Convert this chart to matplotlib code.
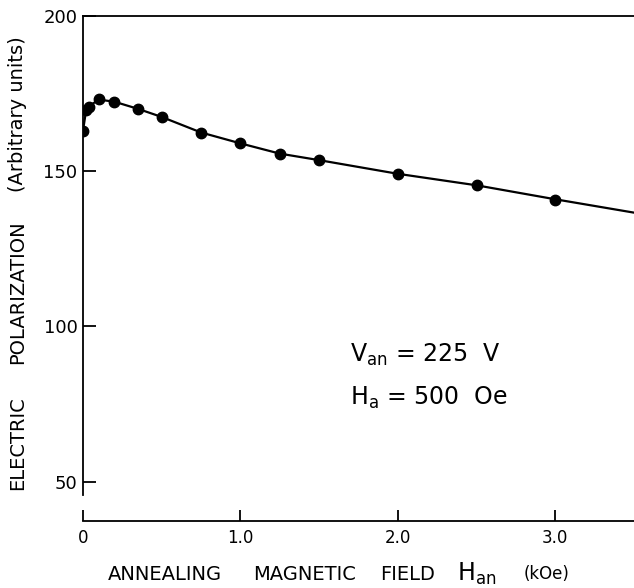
import matplotlib
matplotlib.use("Agg")
import matplotlib.pyplot as plt

# ---- data ----
field_koe = [0.0, 0.02, 0.04, 0.10, 0.20, 0.35, 0.50, 0.75, 1.00, 1.25, 1.50, 2.00, 2.50, 3.00]
polarization = [163.0, 169.6, 170.7, 173.1, 172.2, 170.0, 167.4, 162.2, 158.9, 155.4, 153.6, 149.1, 145.6, 140.7]

curve_x = [0.0, 0.02, 0.04, 0.10, 0.20, 0.35, 0.50, 0.75, 1.00, 1.25, 1.50, 2.00, 2.50, 3.00, 3.50]
curve_y = [163.0, 169.6, 170.9, 173.0, 172.3, 170.0, 167.4, 162.4, 158.9, 155.6, 153.5, 149.1, 145.4, 140.9, 136.6]

xticks = [0, 1.0, 2.0, 3.0]
xtick_labels = ["0", "1.0", "2.0", "3.0"]
yticks = [50, 100, 150, 200]
ytick_labels = ["50", "100", "150", "200"]

W, H = 634, 588
fig = plt.figure(figsize=(W / 100, H / 100), dpi=100)
plt.rcParams['mathtext.fontset'] = 'dejavusans'


def fx(px):
    return px / W


def fy(py):
    return 1 - py / H


left_px, right_px, top_px, bottom_px = 83, 634, 15.7, 495
ax = fig.add_axes([fx(left_px), fy(bottom_px), fx(right_px - left_px), (bottom_px - top_px) / H])

ax.plot(curve_x, curve_y, color='black', lw=1.6, zorder=2)
ax.plot(field_koe, polarization, 'o', color='black', ms=7.5, zorder=3)

ax.set_xlim(0, 3.5)
ax.set_ylim(45.7, 200)

ax.spines['right'].set_visible(False)
for s in ['left', 'top', 'bottom']:
    ax.spines[s].set_linewidth(1.3)
ax.spines['bottom'].set_position(('outward', 26 * 0.72))

ax.set_xticks(xticks)
ax.set_xticklabels(xtick_labels)
ax.set_yticks(yticks)
ax.set_yticklabels(ytick_labels)
ax.tick_params(axis='x', direction='in', length=8, width=1.3, pad=6, labelsize=12)
ax.tick_params(axis='y', direction='in', length=9, width=1.3, pad=4, labelsize=13)

# x-axis label pieces
fs = 14
fig.text(fx(165), fy(574), "ANNEALING", ha='center', va='center', fontsize=fs)
fig.text(fx(305), fy(574), "MAGNETIC", ha='center', va='center', fontsize=fs)
fig.text(fx(408), fy(574), "FIELD", ha='center', va='center', fontsize=fs)
fig.text(fx(477), fy(574), r"$\mathrm{H}_{\mathrm{an}}$", ha='center', va='center', fontsize=17)
fig.text(fx(547), fy(574), "(kOe)", ha='center', va='center', fontsize=12)

# y-axis label pieces
fig.text(fx(18), fy(443), "ELECTRIC", ha='center', va='center', rotation=90, fontsize=fs)
fig.text(fx(18), fy(292), "POLARIZATION", ha='center', va='center', rotation=90, fontsize=fs)
fig.text(fx(18), fy(114), "(Arbitrary units)", ha='center', va='center', rotation=90, fontsize=fs)

# annotations
fig.text(fx(350), fy(355), r"$\mathrm{V}_{\mathrm{an}}$" + " = 225  V", ha='left', va='center', fontsize=17)
fig.text(fx(350), fy(398), r"$\mathrm{H}_{\mathrm{a}}$" + " = 500  Oe", ha='left', va='center', fontsize=17)

fig.savefig("out.png", dpi=100)
